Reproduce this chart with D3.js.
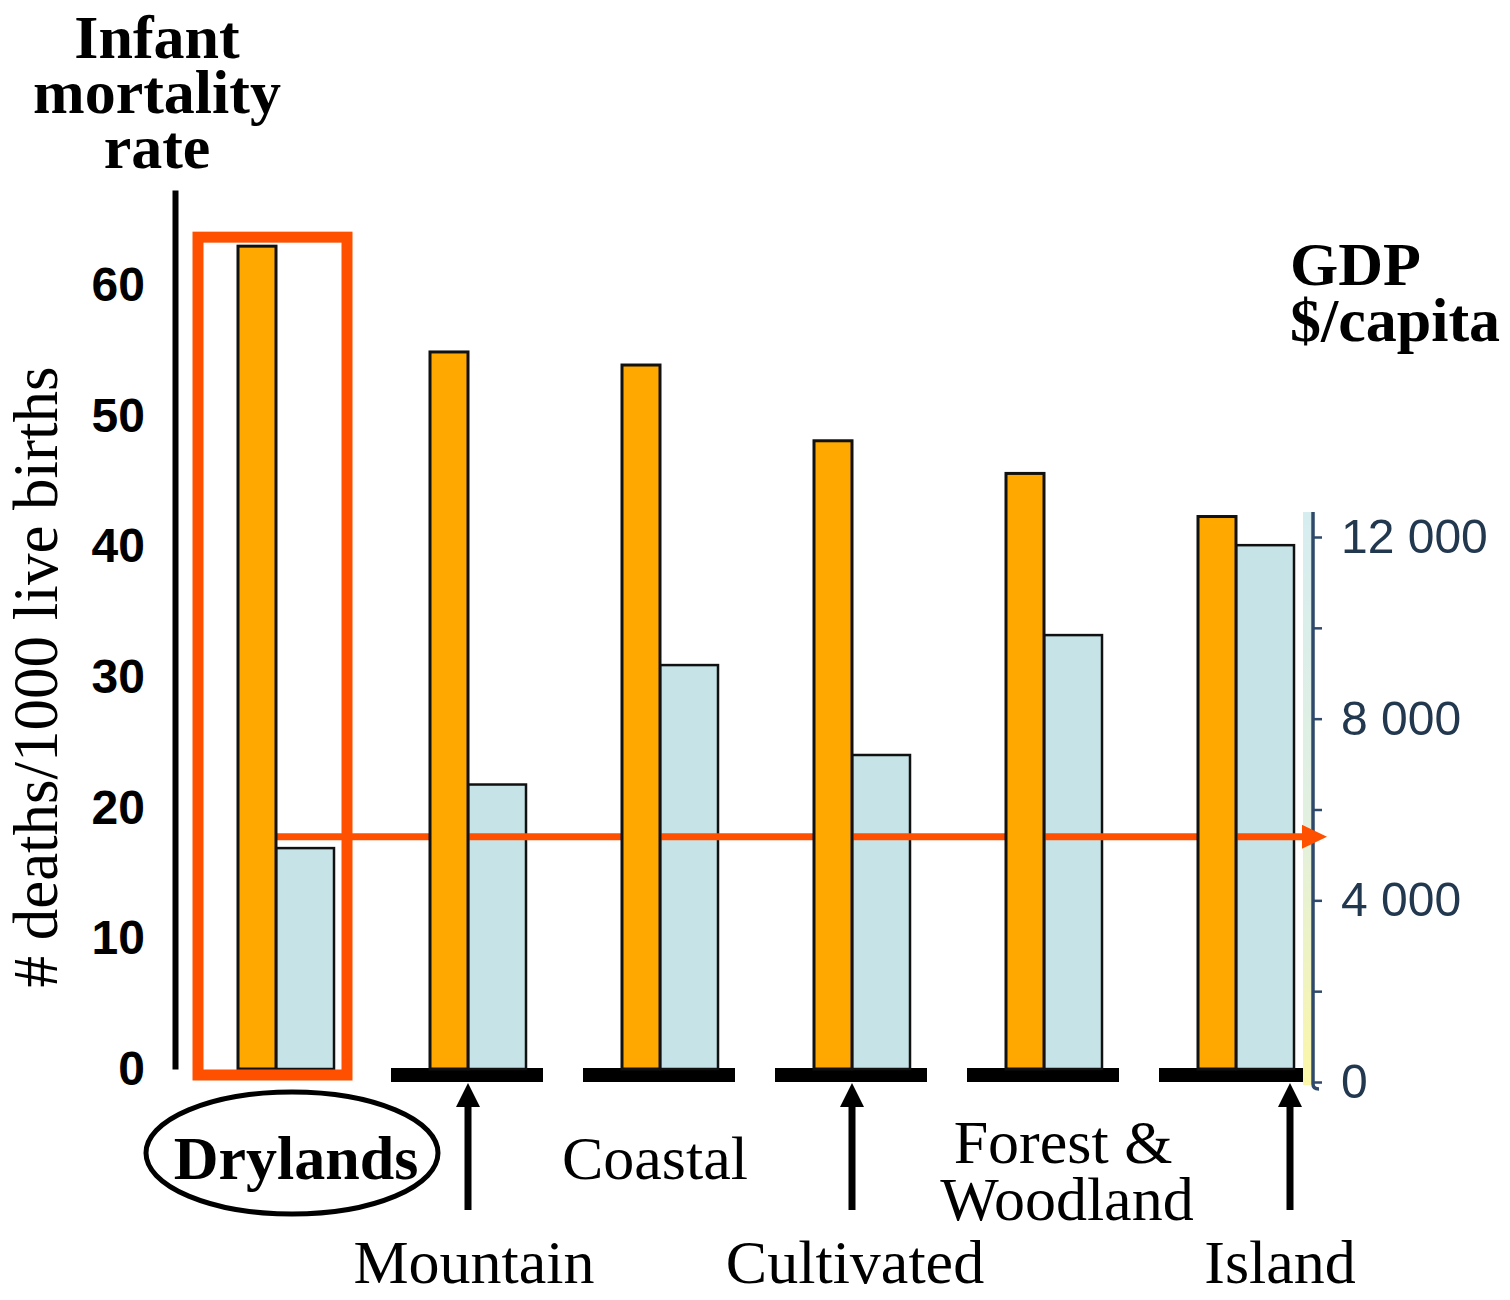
<!DOCTYPE html>
<html>
<head>
<meta charset="utf-8">
<script src="https://cdn.jsdelivr.net/npm/d3@7"></script>
<style>
  html, body { margin: 0; padding: 0; background: #fff; }
  svg { display: block; }
</style>
</head>
<body>
<svg id="chart" width="1510" height="1300"></svg>
<script>
// Ecosystem categories, infant mortality (deaths per 1000 live births)
// and GDP per capita (US$) for each.
const categories = ["Drylands", "Mountain", "Coastal", "Cultivated", "Forest & Woodland", "Island"];
const infantMortality = [63.0, 54.9, 53.9, 48.1, 45.6, 42.3];
const gdpPerCapita = [5150, 6550, 9180, 7200, 9840, 11820];
const mortalityTicks = [0, 10, 20, 30, 40, 50, 60];
const gdpTicks = [0, 2000, 4000, 6000, 8000, 10000, 12000];
const gdpLabelledTicks = [0, 4000, 8000, 12000];
const gdpReference = 5400;
const highlighted = "Drylands";
const arrowed = ["Mountain", "Cultivated", "Island"];

const data = categories.map((c, i) => ({ cat: c, imr: infantMortality[i], gdp: gdpPerCapita[i] }));

const SERIF = "'Liberation Serif', 'Times New Roman', serif";
const SANS = "'Liberation Sans', Arial, Helvetica, sans-serif";
const ORANGE = "#ffa800";
const BLUE = "#c6e4e8";
const RED = "#ff5000";

const svg = d3.select("#chart");

// scales
const x = d3.scalePoint().domain(categories).range([238, 1198]);
const yL = d3.scaleLinear().domain([0, 67.3]).range([1069, 190]);
const yR = d3.scaleLinear().domain([0, 12000]).range([1082, 537]);
const orangeW = 38, blueW = 58;
const rightAxisX = 1313;

const defs = svg.append("defs");
const grad = defs.append("linearGradient").attr("id", "band").attr("x1", 0).attr("y1", 0).attr("x2", 0).attr("y2", 1);
grad.append("stop").attr("offset", "0%").attr("stop-color", "#d6edf0");
grad.append("stop").attr("offset", "55%").attr("stop-color", "#e2f0df");
grad.append("stop").attr("offset", "100%").attr("stop-color", "#fbf6a8");
defs.append("filter").attr("id", "soft")
  .append("feGaussianBlur").attr("stdDeviation", 0.7);

// black baseline plinths under each group (the highlighted group sits in its box instead)
svg.append("g").selectAll("rect")
  .data(data.filter(d => d.cat !== highlighted))
  .join("rect")
  .attr("x", d => x(d.cat) - 39)
  .attr("y", yL(0) - 1)
  .attr("width", d => Math.min(x(d.cat) + orangeW + blueW + 17, rightAxisX - 10) - (x(d.cat) - 39))
  .attr("height", 14)
  .attr("fill", "#000");

// GDP bars
svg.append("g").selectAll("rect")
  .data(data)
  .join("rect")
  .attr("x", d => x(d.cat) + orangeW)
  .attr("y", d => yR(d.gdp))
  .attr("width", blueW)
  .attr("height", d => yL(0) - yR(d.gdp))
  .attr("fill", BLUE)
  .attr("stroke", "#111")
  .attr("stroke-width", 2.5);

// reference GDP level line, starting from the highlighted group
const refY = yR(gdpReference);
const refStart = x(highlighted) + orangeW;
svg.append("line")
  .attr("x1", refStart).attr("x2", rightAxisX - 10)
  .attr("y1", refY).attr("y2", refY)
  .attr("stroke", RED).attr("stroke-width", 7);

// infant mortality bars
svg.append("g").selectAll("rect")
  .data(data)
  .join("rect")
  .attr("x", d => x(d.cat))
  .attr("y", d => yL(d.imr))
  .attr("width", orangeW)
  .attr("height", d => yL(0) - yL(d.imr))
  .attr("fill", ORANGE)
  .attr("stroke", "#111")
  .attr("stroke-width", 3);

// highlight box around the drylands pair
const hd = data.find(d => d.cat === highlighted);
svg.append("rect")
  .attr("x", x(highlighted) - 40)
  .attr("y", yL(hd.imr) - 9)
  .attr("width", orangeW + blueW + 53)
  .attr("height", yL(0) + 6 - (yL(hd.imr) - 9))
  .attr("fill", "none")
  .attr("stroke", RED)
  .attr("stroke-width", 11);

// left axis
const gL = svg.append("g").attr("transform", "translate(175,0)")
  .call(d3.axisLeft(yL).tickValues(mortalityTicks).tickSize(0).tickSizeOuter(0).tickPadding(30));
gL.select(".domain").attr("stroke", "#000").attr("stroke-width", 6);
gL.selectAll(".tick text")
  .attr("font-family", SANS).attr("font-weight", "bold").attr("font-size", 48).attr("fill", "#000");

// right axis (GDP)
const fmt = d3.formatLocale({ decimal: ".", thousands: " ", grouping: [3], currency: ["$", ""] }).format(",d");
const gRwrap = svg.append("g").attr("filter", "url(#soft)");
gRwrap.append("rect")
  .attr("x", rightAxisX - 10).attr("y", yR(12550)).attr("width", 8)
  .attr("height", yR(0) + 3 - yR(12550))
  .attr("fill", "url(#band)");
gRwrap.append("path")
  .attr("d", `M${rightAxisX},${yR(12550)} V${yR(0) + 2} q0,5 6,5`)
  .attr("fill", "none").attr("stroke", "#2e4a6a").attr("stroke-width", 3.5);
const gR = gRwrap.append("g").attr("transform", `translate(${rightAxisX},0)`)
  .call(d3.axisRight(yR).tickValues(gdpTicks).tickSize(9).tickPadding(19)
    .tickFormat(d => gdpLabelledTicks.includes(d) ? fmt(d) : ""));
gR.select(".domain").remove();
gR.selectAll(".tick line").attr("stroke", "#2e4a6a").attr("stroke-width", 2.5);
gR.selectAll(".tick text")
  .attr("font-family", SANS).attr("font-size", 48).attr("fill", "#22374f");

// arrowhead of the reference line, over the axis
svg.append("path")
  .attr("d", `M${rightAxisX - 11},${refY - 12} L${rightAxisX + 14},${refY} L${rightAxisX - 11},${refY + 12} Z`)
  .attr("fill", RED);

// titles
const title = svg.append("text")
  .attr("font-family", SERIF).attr("font-weight", "bold").attr("font-size", 62)
  .attr("text-anchor", "middle").attr("fill", "#000");
["Infant", "mortality", "rate"].forEach((t, i) =>
  title.append("tspan").attr("x", 157).attr("y", 58 + i * 55).text(t));

const gdpTitle = svg.append("text")
  .attr("font-family", SERIF).attr("font-weight", "bold").attr("font-size", 62).attr("fill", "#000");
["GDP", "$/capita"].forEach((t, i) =>
  gdpTitle.append("tspan").attr("x", 1290).attr("y", 285 + i * 56).text(t));

svg.append("text")
  .attr("transform", `translate(57,677) rotate(-90)`)
  .attr("font-family", SERIF).attr("font-size", 63).attr("text-anchor", "middle").attr("fill", "#000")
  .text("# deaths/1000 live births");

// category labels: arrowed ones hang below an arrow, the others sit on the first row
const arrowAt = c => c === "Island" ? x(c) + orangeW + blueW - 4 : x(c) + orangeW;
const rowOneShift = { "Drylands": 58, "Coastal": 33, "Forest & Woodland": 59 };
const rowTwoShift = { "Mountain": 6, "Cultivated": 3, "Island": -10 };
const labelY1 = 1179, labelY2 = 1283;

svg.append("g").selectAll("g")
  .data(arrowed)
  .join("g")
  .each(function (c) {
    const ax = arrowAt(c);
    const g = d3.select(this);
    g.append("line").attr("x1", ax).attr("x2", ax).attr("y1", 1210).attr("y2", 1100)
      .attr("stroke", "#000").attr("stroke-width", 7);
    g.append("path").attr("d", `M${ax},${yL(0) + 14} L${ax + 12},${yL(0) + 38} L${ax - 12},${yL(0) + 38} Z`)
      .attr("fill", "#000");
  });

categories.forEach(c => {
  const t = svg.append("text")
    .attr("font-family", SERIF).attr("font-size", 62).attr("text-anchor", "middle").attr("fill", "#000");
  if (arrowed.includes(c)) {
    t.attr("x", arrowAt(c) + rowTwoShift[c]).attr("y", labelY2).text(c);
  } else if (c === "Forest & Woodland") {
    const cx = x(c) + rowOneShift[c];
    t.append("tspan").attr("x", cx - 2).attr("y", labelY1 - 16).text("Forest &");
    t.append("tspan").attr("x", cx + 2).attr("y", labelY1 + 41).text("Woodland");
  } else {
    t.attr("x", x(c) + rowOneShift[c]).attr("y", labelY1).text(c);
    if (c === highlighted) {
      t.attr("font-weight", "bold");
      svg.append("ellipse")
        .attr("cx", x(c) + rowOneShift[c] - 4).attr("cy", 1153)
        .attr("rx", 146).attr("ry", 61)
        .attr("fill", "none").attr("stroke", "#000").attr("stroke-width", 5);
    }
  }
});
</script>
</body>
</html>
